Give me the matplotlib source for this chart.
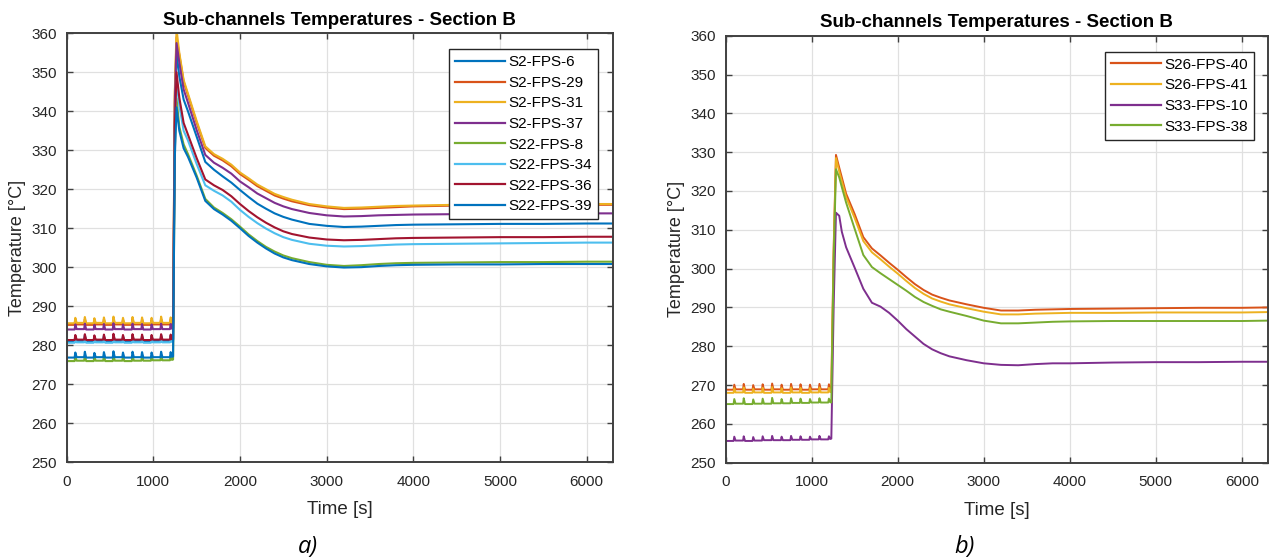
import matplotlib
matplotlib.use('Agg')
import matplotlib.pyplot as plt

plt.rcParams['font.family'] = ['Liberation Sans', 'DejaVu Sans']

### time axis [s]: steady part (with periodic spikes) and transient part
t_pre = [0, 92, 100, 115, 202, 210, 225, 312, 320, 335, 422, 430, 445, 532, 540, 555,
         642, 650, 665, 752, 760, 775, 862, 870, 885, 972, 980, 995, 1082, 1090, 1105,
         1192, 1200, 1215]
t_post_a = [1228, 1248, 1268, 1300, 1350, 1400, 1500, 1600, 1700, 1800, 1900, 2000, 2100, 2200,
            2300, 2400, 2500, 2600, 2800, 3000, 3200, 3400, 3600, 3800, 4000, 4500, 5000,
            5500, 6000, 6300]
t_post_b = [1228, 1255, 1282, 1320, 1350, 1400, 1500, 1600, 1700, 1800, 1900, 2000, 2100, 2200,
            2300, 2400, 2500, 2600, 2800, 3000, 3200, 3400, 3600, 3800, 4000, 4500, 5000,
            5500, 6000, 6300]

### panel a) temperatures [C]
s2_fps_6 = [281.0, 281.0, 282.3, 281.1, 281.1, 282.5, 281.0, 281.0, 282.2, 281.1, 281.1, 282.4,
            281.0, 281.0, 282.6, 281.1, 281.1, 282.3, 281.0, 281.0, 282.5, 281.1, 281.1, 282.4,
            281.0, 281.0, 282.3, 281.1, 281.1, 282.5, 281.1, 281.1, 282.4, 281.2,
            281.3, 338.0, 355.0, 349.0, 343.0, 340.0, 333.5, 327.0, 325.0, 323.3, 321.7, 319.8,
            318.0, 316.3, 315.0, 313.8, 312.9, 312.2, 311.1, 310.6, 310.3, 310.4, 310.6, 310.8,
            310.9, 311.0, 311.1, 311.1, 311.2, 311.2]
s2_fps_29 = [285.2, 285.2, 286.5, 285.3, 285.3, 286.7, 285.2, 285.2, 286.4, 285.3, 285.3, 286.6,
             285.2, 285.2, 286.7, 285.3, 285.3, 286.5, 285.2, 285.2, 286.8, 285.3, 285.3, 286.6,
             285.2, 285.2, 286.5, 285.3, 285.3, 286.7, 285.3, 285.3, 286.6, 285.4,
             285.5, 344.0, 359.0, 354.5, 347.6, 344.1, 337.1, 330.6, 328.6, 327.4, 325.9, 323.9,
             322.4, 320.8, 319.6, 318.4, 317.6, 316.9, 315.9, 315.3, 314.9, 315.0, 315.2, 315.4,
             315.6, 315.8, 315.8, 315.9, 316.0, 316.0]
s2_fps_31 = [285.6, 285.6, 287.0, 285.7, 285.7, 287.2, 285.6, 285.6, 286.9, 285.7, 285.7, 287.1,
             285.6, 285.6, 287.3, 285.7, 285.7, 287.0, 285.6, 285.6, 287.2, 285.7, 285.7, 287.1,
             285.6, 285.6, 287.0, 285.7, 285.7, 287.3, 285.7, 285.7, 287.1, 285.8,
             285.8, 345.0, 361.0, 355.0, 348.0, 344.5, 337.5, 331.0, 329.0, 327.8, 326.3, 324.3,
             322.8, 321.2, 320.0, 318.8, 318.0, 317.3, 316.2, 315.6, 315.2, 315.3, 315.5, 315.7,
             315.8, 316.0, 316.0, 316.1, 316.2, 316.2]
s2_fps_37 = [284.0, 284.0, 285.3, 284.1, 284.1, 285.5, 284.0, 284.0, 285.2, 284.1, 284.1, 285.4,
             284.0, 284.0, 285.6, 284.1, 284.1, 285.3, 284.0, 284.0, 285.5, 284.1, 284.1, 285.4,
             284.0, 284.0, 285.3, 284.1, 284.1, 285.5, 284.1, 284.1, 285.4, 284.2,
             284.3, 342.0, 357.5, 352.5, 345.6, 342.2, 335.2, 328.8, 326.8, 325.5, 324.0, 322.0,
             320.5, 318.9, 317.7, 316.5, 315.6, 314.9, 313.9, 313.3, 313.0, 313.1, 313.3, 313.4,
             313.5, 313.6, 313.7, 313.7, 313.8, 313.8]
s22_fps_8 = [275.9, 275.9, 277.1, 276.0, 276.0, 277.3, 275.9, 275.9, 277.0, 276.0, 276.0, 277.2,
             275.9, 275.9, 277.4, 276.0, 276.0, 277.1, 275.9, 275.9, 277.3, 276.0, 276.0, 277.2,
             276.0, 276.0, 277.1, 276.1, 276.1, 277.3, 276.1, 276.1, 277.2, 276.2,
             276.3, 330.0, 343.3, 336.0, 331.5, 329.0, 323.5, 317.5, 315.3, 313.9, 312.3, 310.4,
             308.4, 306.7, 305.2, 304.0, 303.0, 302.3, 301.3, 300.6, 300.3, 300.5, 300.8, 301.0,
             301.1, 301.2, 301.3, 301.3, 301.4, 301.4]
s22_fps_34 = [280.6, 280.6, 281.9, 280.7, 280.7, 282.1, 280.6, 280.6, 281.8, 280.7, 280.7, 282.0,
              280.6, 280.6, 282.2, 280.7, 280.7, 281.9, 280.6, 280.6, 282.1, 280.7, 280.7, 282.0,
              280.6, 280.6, 281.9, 280.7, 280.7, 282.1, 280.7, 280.7, 282.0, 280.8,
              280.9, 334.0, 348.0, 341.5, 335.0, 332.5, 326.5, 321.0, 319.6, 318.4, 316.8, 314.7,
              312.9, 311.3, 309.9, 308.7, 307.7, 307.0, 306.0, 305.5, 305.3, 305.4, 305.6, 305.8,
              305.9, 306.0, 306.1, 306.2, 306.3, 306.3]
s22_fps_36 = [281.3, 281.3, 282.6, 281.4, 281.4, 282.8, 281.3, 281.3, 282.5, 281.4, 281.4, 282.7,
              281.3, 281.3, 282.9, 281.4, 281.4, 282.6, 281.3, 281.3, 282.8, 281.4, 281.4, 282.7,
              281.3, 281.3, 282.6, 281.4, 281.4, 282.8, 281.4, 281.4, 282.7, 281.5,
              281.5, 336.0, 350.0, 343.5, 337.0, 334.0, 328.0, 322.5, 321.0, 319.8, 318.2, 316.2,
              314.4, 312.8, 311.4, 310.2, 309.2, 308.5, 307.6, 307.1, 306.9, 307.0, 307.2, 307.4,
              307.5, 307.6, 307.7, 307.7, 307.8, 307.8]
s22_fps_39 = [276.8, 276.8, 278.1, 276.9, 276.9, 278.3, 276.8, 276.8, 278.0, 276.9, 276.9, 278.2,
              276.8, 276.8, 278.4, 276.9, 276.9, 278.1, 276.8, 276.8, 278.3, 276.9, 276.9, 278.2,
              276.8, 276.8, 278.1, 276.9, 276.9, 278.3, 276.9, 276.9, 278.2, 277.0,
              277.1, 328.0, 341.0, 335.0, 330.5, 328.3, 323.0, 317.0, 314.9, 313.5, 311.9, 310.0,
              308.0, 306.3, 304.8, 303.5, 302.5, 301.8, 300.8, 300.2, 299.9, 300.0, 300.3, 300.5,
              300.6, 300.7, 300.7, 300.8, 300.8, 300.8]

### panel b) temperatures [C]
s26_fps_40 = [268.8, 268.8, 270.1, 268.9, 268.9, 270.3, 268.8, 268.8, 270.0, 268.9, 268.9, 270.2,
              268.8, 268.8, 270.4, 268.9, 268.9, 270.1, 268.8, 268.8, 270.3, 268.9, 268.9, 270.2,
              268.8, 268.8, 270.1, 268.9, 268.9, 270.3, 268.9, 268.9, 270.2, 269.0,
              269.0, 305.0, 329.3, 326.0, 323.5, 319.3, 314.0, 308.1, 305.2, 303.4, 301.5, 299.7,
              297.8, 296.0, 294.5, 293.3, 292.5, 291.8, 290.8, 289.9, 289.2, 289.2, 289.4, 289.5,
              289.6, 289.7, 289.8, 289.9, 289.9, 290.0]
s26_fps_41 = [268.0, 268.0, 269.2, 268.1, 268.1, 269.4, 268.0, 268.0, 269.1, 268.1, 268.1, 269.3,
              268.0, 268.0, 269.5, 268.1, 268.1, 269.2, 268.0, 268.0, 269.4, 268.1, 268.1, 269.3,
              268.0, 268.0, 269.2, 268.1, 268.1, 269.4, 268.1, 268.1, 269.3, 268.2,
              268.2, 304.0, 328.5, 325.0, 322.5, 318.4, 313.0, 307.1, 304.2, 302.4, 300.5, 298.7,
              296.8, 295.0, 293.5, 292.3, 291.5, 290.8, 289.8, 288.9, 288.2, 288.2, 288.4, 288.5,
              288.6, 288.6, 288.7, 288.7, 288.7, 288.8]
s33_fps_10 = [255.6, 255.6, 256.7, 255.7, 255.7, 256.8, 255.6, 255.6, 256.6, 255.7, 255.7, 256.8,
              255.8, 255.8, 256.9, 255.8, 255.8, 256.7, 255.8, 255.8, 256.9, 255.9, 255.9, 256.8,
              255.9, 255.9, 256.7, 256.0, 256.0, 256.9, 256.0, 256.0, 256.8, 256.1,
              256.2, 290.0, 314.4, 313.6, 309.5, 305.5, 300.2, 294.8, 291.2, 290.2, 288.6, 286.6,
              284.4, 282.5, 280.6, 279.2, 278.2, 277.4, 276.4, 275.6, 275.2, 275.1, 275.4, 275.6,
              275.6, 275.8, 275.9, 275.9, 276.0, 276.0]
s33_fps_38 = [265.1, 265.1, 266.4, 265.2, 265.2, 266.6, 265.1, 265.1, 266.3, 265.2, 265.2, 266.5,
              265.2, 265.2, 266.7, 265.3, 265.3, 266.4, 265.3, 265.3, 266.6, 265.4, 265.4, 266.5,
              265.4, 265.4, 266.4, 265.5, 265.5, 266.6, 265.5, 265.5, 266.5, 265.6,
              265.5, 302.0, 325.6, 323.5, 321.0, 317.0, 310.2, 303.5, 300.4, 298.8, 297.3, 295.8,
              294.3, 292.7, 291.4, 290.4, 289.5, 288.9, 287.8, 286.6, 285.9, 285.9, 286.1, 286.3,
              286.4, 286.5, 286.5, 286.5, 286.5, 286.6]

labels_a = ['S2-FPS-6', 'S2-FPS-29', 'S2-FPS-31', 'S2-FPS-37',
            'S22-FPS-8', 'S22-FPS-34', 'S22-FPS-36', 'S22-FPS-39']
series_a = [s2_fps_6, s2_fps_29, s2_fps_31, s2_fps_37,
            s22_fps_8, s22_fps_34, s22_fps_36, s22_fps_39]
labels_b = ['S26-FPS-40', 'S26-FPS-41', 'S33-FPS-10', 'S33-FPS-38']
series_b = [s26_fps_40, s26_fps_41, s33_fps_10, s33_fps_38]

### matlab default line colours
colors_a = ['#0072BD', '#D95319', '#EDB120', '#7E2F8E',
            '#77AC30', '#4DBEEE', '#A2142F', '#0072BD']
colors_b = ['#D95319', '#EDB120', '#7E2F8E', '#77AC30']

dark = '#262626'

### figure
fig = plt.figure(figsize=(12.72, 5.59), dpi=100)
ax1 = fig.add_axes([0.0524, 0.1735, 0.4292, 0.7669])
ax2 = fig.add_axes([0.5705, 0.1723, 0.4261, 0.7638])

def style_axes(ax):
    ax.set_xlim(0, 6300)
    ax.set_ylim(250, 360)
    ax.set_xticks(range(0, 6001, 1000))
    ax.set_yticks(range(250, 361, 10))
    ax.grid(True, color='#e0e0e0', linewidth=0.9)
    ax.set_axisbelow(True)
    ax.tick_params(direction='in', top=True, right=True, length=4, width=1.0,
                   color='#404040', labelsize=11, labelcolor=dark)
    ax.tick_params(axis='x', pad=9)
    ax.tick_params(axis='y', pad=7)
    for sp in ax.spines.values():
        sp.set_color('#404040')
        sp.set_linewidth(1.4)
    ax.set_title('Sub-channels Temperatures - Section B', fontsize=13.5,
                 fontweight='bold', color='black', pad=6)
    ax.set_xlabel('Time [s]', fontsize=13.5, color=dark, labelpad=9)
    ax.set_ylabel('Temperature [°C]', fontsize=13, color=dark, labelpad=4)

def add_legend(ax, anchor):
    leg = ax.legend(loc='upper right', bbox_to_anchor=anchor, borderaxespad=0,
                    fontsize=11, handlelength=3.3, handletextpad=0.2, labelspacing=0.43,
                    borderpad=0.4, fancybox=False, framealpha=1, edgecolor=dark)
    leg.get_frame().set_linewidth(1.0)
    for ln in leg.get_lines():
        ln.set_linewidth(1.6)

### panel a
t_a = t_pre + t_post_a
for vals, lab, col in zip(series_a, labels_a, colors_a):
    ax1.plot(t_a, vals, color=col, linewidth=1.5, label=lab)
style_axes(ax1)
add_legend(ax1, (0.973, 0.963))

### panel b
t_b = t_pre + t_post_b
for vals, lab, col in zip(series_b, labels_b, colors_b):
    ax2.plot(t_b, vals, color=col, linewidth=1.4, label=lab)
style_axes(ax2)
add_legend(ax2, (0.975, 0.9625))

### panel captions
fig.text(308 / 1272, 1 - 547 / 559, 'a)', fontsize=17, style='italic',
         family=['Open Sans', 'DejaVu Sans'], ha='center', va='center')
fig.text(965 / 1272, 1 - 547 / 559, 'b)', fontsize=17, style='italic',
         family=['Open Sans', 'DejaVu Sans'], ha='center', va='center')

fig.savefig('out.png', dpi=100)
